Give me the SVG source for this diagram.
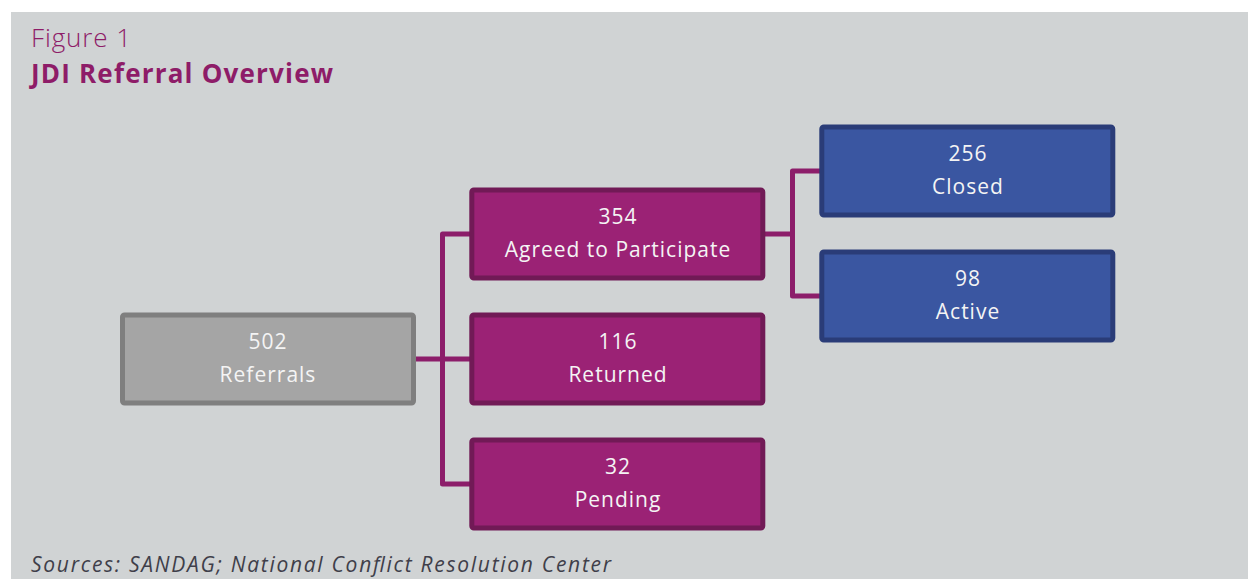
<svg xmlns="http://www.w3.org/2000/svg" width="1248" height="579" viewBox="0 0 1248 579">
<style>
.grey{fill:#a5a5a5;stroke:#7f7f7f;stroke-width:5}
.purple{fill:#9b2275;stroke:#711a56;stroke-width:5}
.blue{fill:#3a56a1;stroke:#2a3c78;stroke-width:5}
.lbl{font-family:"Open Sans","Liberation Sans",sans-serif;font-size:21px;letter-spacing:1px;fill:#f4f4f4;text-anchor:middle}
.conn{fill:none;stroke:#8c1d6a;stroke-width:5;stroke-linejoin:round}
</style>
<rect x="0" y="0" width="1248" height="579" fill="#ffffff"/>
<rect x="11" y="12" width="1237" height="567" fill="#d0d3d4"/>
<text x="31" y="47" font-family="'Open Sans','Liberation Sans',sans-serif" font-size="26" font-weight="300" fill="#8e1c68" textLength="100" lengthAdjust="spacing">Figure 1</text>
<text x="31" y="83" font-family="'Open Sans','Liberation Sans',sans-serif" font-size="26" font-weight="700" fill="#8e1c68" textLength="302" lengthAdjust="spacing">JDI Referral Overview</text>
<g id="connectors">
<path class="conn" d="M416 359 H471"/>
<path class="conn" d="M471 234 H442.5 V484 H471"/>
<path class="conn" d="M765 234 H792.5"/>
<path class="conn" d="M821 171 H792.5 V296 H821"/>
</g>
<g id="referrals">
<rect class="grey" x="122.5" y="315" width="291" height="88" rx="2"/>
<text class="lbl" x="268" y="349">502</text>
<text class="lbl" x="268" y="382">Referrals</text>
</g>
<g id="agreed">
<rect class="purple" x="471.8" y="190" width="291" height="88" rx="2"/>
<text class="lbl" x="618" y="224">354</text>
<text class="lbl" x="618" y="257">Agreed to Participate</text>
</g>
<g id="returned">
<rect class="purple" x="471.8" y="315" width="291" height="88" rx="2"/>
<text class="lbl" x="618" y="349">116</text>
<text class="lbl" x="618" y="382">Returned</text>
</g>
<g id="pending">
<rect class="purple" x="471.8" y="440" width="291" height="88" rx="2"/>
<text class="lbl" x="618" y="474">32</text>
<text class="lbl" x="618" y="507">Pending</text>
</g>
<g id="closed">
<rect class="blue" x="821.8" y="127" width="291" height="88" rx="2"/>
<text class="lbl" x="968" y="161">256</text>
<text class="lbl" x="968" y="194">Closed</text>
</g>
<g id="active">
<rect class="blue" x="821.8" y="252" width="291" height="88" rx="2"/>
<text class="lbl" x="968" y="286">98</text>
<text class="lbl" x="968" y="319">Active</text>
</g>
<text x="31" y="572" font-family="'Open Sans','Liberation Sans',sans-serif" font-size="21" font-style="italic" fill="#3f3f4a" textLength="580" lengthAdjust="spacing">Sources: SANDAG; National Conflict Resolution Center</text>
</svg>
